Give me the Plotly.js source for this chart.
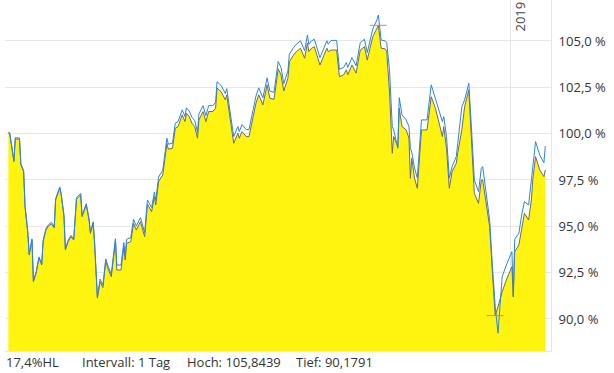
<!DOCTYPE html>
<html>
<head>
<meta charset="utf-8">
<script src="https://cdn.plot.ly/plotly-3.0.1.min.js"></script>
<style>html,body{margin:0;padding:0;background:#fff;}#chart{width:614px;height:373px;}</style>
</head>
<body>
<div id="chart"></div>
<script>
// days after 2018-01-05
const days = [0,1,4,5,8,9,11,12,14,15,17,18,20,22,24,25,27,29,31,33,34,37,38,40,41,43,45,47,49,52,53,56,58,59,61,62,64,66,68,70,72,74,77,78,81,83,84,85,88,90,92,95,98,100,103,105,106,108,111,114,115,118,120,122,125,127,128,130,132,134,136,137,140,142,144,147,149,150,153,156,157,159,162,165,166,168,171,173,175,178,180,183,186,188,191,194,196,198,201,202,205,207,210,211,213,215,216,218,220,224,226,229,230,232,236,238,241,243,244,247,250,253,256,258,260,262,265,266,268,271,272,274,276,277,280,281,283,286,288,289,290,292,294,297,299,301,304,307,310,312,313,315,317,319,322,323,326,328,331,333,335,338,340,341,344,346,348,350,352,355,358,362,363,364,367,369,371,374,376,377,379,382,385,386];

// main series (percent, filled)
const closeVals = [
100.02, 99.98, 98.49, 99.71, 99.70, 98.31, 97.95, 96.06, 94.64, 93.45,
94.26, 92.01, 92.48, 93.29, 92.91, 94.17, 94.80, 95.02, 95.13, 94.91,
96.42, 97.05, 96.69, 95.52, 93.72, 94.17, 94.44, 94.26, 96.46, 96.69,
95.52, 96.15, 95.34, 94.62, 95.16, 94.08, 91.12, 92.01, 91.69, 93.09,
92.64, 92.28, 94.21, 92.64, 92.64, 93.90, 93.18, 94.08, 94.17, 95.16,
94.80, 95.25, 94.44, 96.20, 95.79, 96.60, 96.15, 97.41, 97.77, 99.48,
99.16, 99.21, 100.29, 100.38, 101.01, 100.65, 101.10, 100.92, 100.56, 100.38,
99.75, 100.74, 101.19, 100.65, 101.19, 101.19, 101.37, 102.46, 102.26, 101.82,
102.09, 101.01, 99.48, 100.02, 99.75, 100.11, 99.84, 99.84, 100.56, 101.64,
102.09, 101.55, 102.63, 101.91, 101.85, 103.49, 103.17, 102.30, 102.99, 103.88,
104.24, 104.42, 104.61, 104.42, 104.07, 104.89, 104.42, 104.61, 104.69, 103.70,
104.07, 104.61, 104.42, 104.51, 104.51, 103.07, 103.17, 103.44, 103.17, 103.70,
103.26, 104.51, 104.69, 103.97, 104.61, 105.23, 105.69, 105.8439, 104.61, 104.57,
104.42, 102.26, 98.94, 99.84, 99.30, 101.37, 100.38, 100.20, 99.75, 97.59,
98.67, 97.59, 97.05, 100.20, 100.20, 100.20, 101.99, 101.37, 100.47, 99.84,
100.38, 99.21, 97.05, 97.95, 98.40, 98.94, 100.20, 101.45, 102.36, 99.66,
96.78, 96.24, 97.50, 97.50, 96.06, 94.98, 92.47, 90.1791, 90.66, 91.47,
92.10, 92.82, 91.20, 93.63, 93.99, 94.80, 95.70, 95.34, 96.42, 97.50,
98.76, 98.04, 97.68, 98.04];

// second series (blue line)
const blueVals = [
100.08, 100.05, 98.55, 99.78, 99.76, 98.37, 98.01, 96.12, 94.70, 93.51,
94.32, 92.07, 92.54, 93.35, 92.97, 94.23, 94.87, 95.10, 95.21, 94.98,
96.49, 97.12, 96.76, 95.59, 93.79, 94.24, 94.51, 94.33, 96.54, 96.77,
95.59, 96.22, 95.42, 94.69, 95.24, 94.16, 91.20, 92.15, 91.82, 93.24,
92.78, 92.42, 94.33, 92.91, 92.91, 94.12, 93.40, 94.30, 94.39, 95.38,
95.02, 95.47, 94.66, 96.42, 96.01, 96.85, 96.40, 97.66, 98.02, 99.75,
99.43, 99.48, 100.56, 100.65, 101.28, 100.92, 101.39, 101.22, 100.88, 100.70,
100.07, 101.06, 101.51, 100.97, 101.51, 101.51, 101.69, 102.80, 102.60, 102.16,
102.43, 101.35, 99.84, 100.38, 100.11, 100.49, 100.22, 100.22, 100.94, 102.02,
102.47, 101.93, 103.01, 102.29, 102.23, 103.89, 103.57, 102.70, 103.39, 104.28,
104.64, 104.82, 105.01, 104.82, 104.47, 105.32, 104.82, 105.01, 105.09, 104.10,
104.47, 105.01, 104.82, 105.03, 105.03, 103.47, 103.57, 103.84, 103.57, 104.10,
103.66, 104.91, 105.09, 104.37, 105.01, 105.65, 106.15, 106.40, 105.05, 105.00,
104.92, 103.44, 100.38, 100.20, 99.21, 101.94, 101.01, 100.74, 100.38, 99.21,
99.00, 98.15, 97.60, 100.74, 100.74, 100.74, 102.63, 101.91, 101.19, 100.65,
100.92, 99.84, 97.60, 98.22, 98.76, 99.39, 101.45, 101.82, 102.72, 100.20,
97.50, 96.87, 98.13, 98.22, 96.60, 95.34, 92.82, 90.66, 89.23, 92.28,
92.91, 93.63, 91.20, 94.30, 94.62, 95.61, 96.33, 96.15, 97.50, 98.22,
99.57, 98.85, 98.43, 99.33];

const yTicks = [90, 92.5, 95, 97.5, 100, 102.5, 105];
const yTickText = ['90,0 %', '92,5 %', '95,0 %', '97,5 %', '100,0 %', '102,5 %', '105,0 %'];
const yearMark = '2019-01-01';
const yearLabel = '2019';
const footerTexts = ['17,4%HL', 'Intervall: 1 Tag', 'Hoch: 105,8439', 'Tief: 90,1791'];

const start = Date.UTC(2018, 0, 5);
function toDate(d) {
  return new Date(start + d * 86400000).toISOString().replace('T', ' ').slice(0, 19);
}
const xDates = days.map(toDate);

const hiIdx = closeVals.indexOf(Math.max(...closeVals));
const loIdx = closeVals.indexOf(Math.min(...closeVals));

const traces = [
  {
    x: xDates, y: closeVals, type: 'scatter', mode: 'lines',
    line: {color: '#6b6b6b', width: 1},
    fill: 'tozeroy', fillcolor: 'rgba(255,243,0,0.94)',
    hoverinfo: 'skip'
  },
  {
    x: xDates, y: blueVals, type: 'scatter', mode: 'lines',
    line: {color: '#2b85de', width: 1},
    hoverinfo: 'skip'
  },
  {
    x: [xDates[hiIdx], xDates[loIdx]], y: [closeVals[hiIdx], closeVals[loIdx]],
    type: 'scatter', mode: 'markers',
    marker: {symbol: 'line-ew', size: 12, line: {color: '#9a9a9a', width: 1}},
    hoverinfo: 'skip'
  }
];

const fx = [5, 81, 186, 295];
const annotations = footerTexts.map((t, i) => ({
  text: t, xref: 'paper', yref: 'paper',
  x: (fx[i] - 6) / 546, y: -0.03, xanchor: 'left', yanchor: 'middle',
  showarrow: false, font: {family: 'Open Sans', size: 13, color: '#333'}
}));
annotations.push({
  text: yearLabel, xref: 'x', yref: 'paper', x: yearMark, y: 1,
  xanchor: 'center', yanchor: 'top', xshift: 9, yshift: 0, textangle: -90,
  showarrow: false, font: {family: 'Open Sans', size: 13, color: '#444'}
});

const layout = {
  width: 614, height: 373,
  margin: {l: 5, r: 63, t: 0, b: 22, pad: 0},
  paper_bgcolor: '#fff', plot_bgcolor: '#fff',
  showlegend: false,
  separators: ',.',
  font: {family: 'Open Sans', size: 13, color: '#333'},
  xaxis: {
    type: 'date', range: [toDate(-2.4), toDate(390.1)],
    tickvals: [yearMark], showticklabels: false,
    showgrid: true, gridcolor: '#e6e6e6', gridwidth: 1,
    zeroline: false, showline: true, linecolor: '#e6e6e6', ticks: ''
  },
  yaxis: {
    side: 'right', range: [88.27, 107.21],
    tickmode: 'array', tickvals: yTicks, ticktext: yTickText,
    showgrid: true, gridcolor: '#e8e8e8', gridwidth: 1,
    zeroline: false, showline: true, linecolor: '#e6e6e6',
    ticks: 'outside', ticklen: 4, tickcolor: 'rgba(0,0,0,0)',
    tickfont: {family: 'Open Sans', size: 13, color: '#333'}
  },
  annotations: annotations
};

Plotly.newPlot('chart', traces, layout, {staticPlot: true, displayModeBar: false});
</script>
</body>
</html>
